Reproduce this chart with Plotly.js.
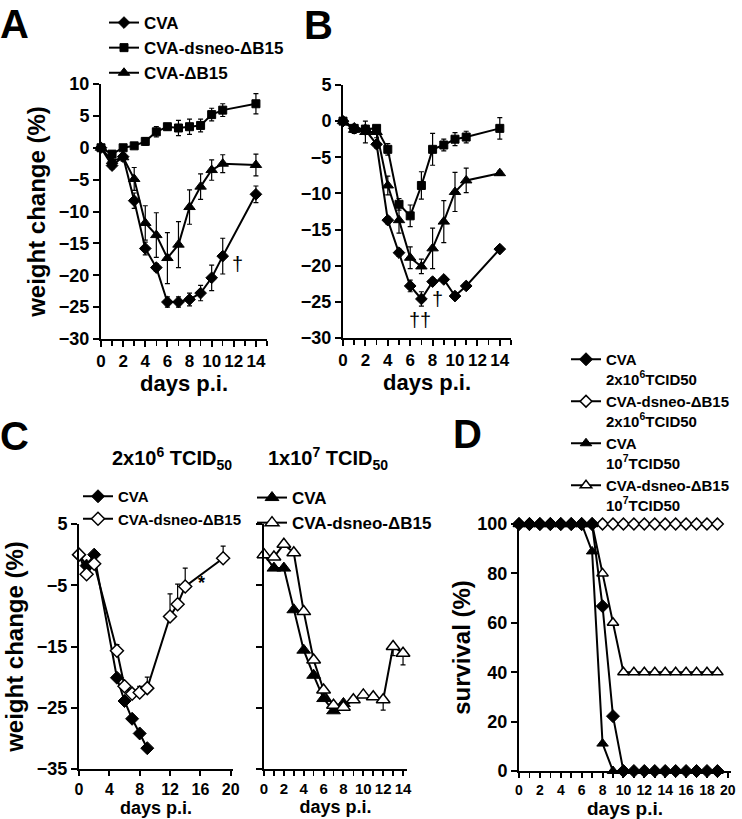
<!DOCTYPE html>
<html>
<head>
<meta charset="utf-8">
<script src="https://cdn.plot.ly/plotly-3.0.1.min.js"></script>
<style>html,body{margin:0;padding:0;background:#fff;}#chart{width:742px;height:819px;}</style>
</head>
<body>
<div id="chart"></div>
<script>
// ---------- Panel A ----------
const daysAB = [0,1,2,3,4,5,6,7,8,9,10,11,14];
const A_cva = [0,-2.8,-1.4,-8.3,-15.8,-18.8,-24.2,-24.2,-23.8,-22.8,-20.4,-17.0,-7.3];
const A_cva_err = [0,0.5,0.5,1.2,1.0,0.6,0.8,0.8,1.0,1.2,2.0,2.8,1.3];
const A_dsneo = [0,-1.0,0,0.3,1.0,2.5,3.3,3.1,3.3,3.5,5.2,5.9,6.9];
const A_dsneo_err = [0.3,0.5,0.3,0.3,0.6,0.8,0.5,1.2,1.2,1.0,1.0,1.0,1.6];
const A_dB15 = [0,-2.1,-1.5,-4.9,-11.8,-13.7,-17.3,-15.2,-9.3,-6.1,-3.5,-2.5,-2.7];
const A_dB15_err = [0,0.8,0.6,1.8,2.7,3.5,4.0,3.6,2.7,2.0,1.6,1.4,1.7];

// ---------- Panel B ----------
const B_cva = [0,-1.0,-1.2,-3.2,-13.7,-18.2,-22.8,-24.6,-22.2,-21.9,-24.2,-22.8,-17.7];
const B_cva_err = [0,0.3,0.3,0.5,0.5,0.5,0.8,1.0,0.5,0.4,0.4,0.4,0.3];
const B_dsneo = [0,-1.0,-1.1,-1.0,-3.9,-11.5,-13.1,-8.9,-3.9,-3.3,-2.5,-2.2,-1.0];
const B_dsneo_err = [0,0.3,0.5,0.4,0.8,0.8,1.5,1.9,2.2,0.8,0.9,0.8,1.5];
const B_dB15 = [0,-1.2,-1.5,-1.5,-8.9,-13.7,-18.9,-20.1,-17.6,-13.9,-9.8,-8.2,-7.2];
const B_dB15_err = [0,0.5,1.5,0.8,1.3,1.8,1.5,1.0,2.8,2.9,2.7,1.7,0.3];

// ---------- Panel C (2x10^6) ----------
const C1_cva_days = [0,1,2,5,6,7,8,9];
const C1_cva = [0,-1.8,0,-20.1,-23.9,-26.8,-29.2,-31.6];
const C1_dsneo_days = [0,1,2,5,6,7,8,9,12,13,14,19];
const C1_dsneo = [0,-3.2,-1.5,-15.7,-21.5,-22.7,-22.5,-21.8,-10.1,-8.1,-5.2,-0.6];
const C1_dsneo_err = [0,0,0,1.0,0.5,0.3,1.0,1.8,3.7,3.3,3.0,2.0];

// ---------- Panel C (1x10^7) ----------
const C2_cva_days = [0,1,2,3,4,5,6,7,8];
const C2_cva = [0,-2.2,-2.2,-9.0,-15.6,-19.7,-23.5,-25.5,-24.3];
const C2_dsneo_days = [0,1,2,3,4,5,6,7,8,9,10,11,12,13,14];
const C2_dsneo = [0,-0.4,1.7,0.3,-9.3,-17.2,-22.1,-24.6,-24.9,-23.7,-22.9,-23.2,-23.7,-15.0,-16.1];
const C2_dsneo_err = [0,0,0,0,0,0,0,0,0,0,0,0,1.7,1.5,1.9];

// ---------- Panel D (survival) ----------
const daysD = [0,1,2,3,4,5,6,7,8,9,10,11,12,13,14,15,16,17,18,19];
const D_cva6 = [100,100,100,100,100,100,100,100,66.7,22.2,0,0,0,0,0,0,0,0,0,0];
const D_dsneo6 = [100,100,100,100,100,100,100,100,100,100,100,100,100,100,100,100,100,100,100,100];
const D_cva7 = [100,100,100,100,100,100,100,88.9,11.1,0,0,0,0,0,0,0,0,0,0,0];
const D_dsneo7 = [100,100,100,100,100,100,100,100,80,60,40,40,40,40,40,40,40,40,40,40];

const F = 'Liberation Sans, Arial, Helvetica, sans-serif';
const K = 'black';
function bf(size){ return {family:F, size:size, color:K, weight:'bold'}; }
function err(arr, sym){ 
  if (sym === 'up') return {type:'data', symmetric:false, array:arr, arrayminus:arr.map(()=>0), color:K, thickness:1.2, width:2.5};
  if (sym === 'down') return {type:'data', symmetric:false, array:arr.map(()=>0), arrayminus:arr, color:K, thickness:1.2, width:2.5};
  return {type:'data', array:arr, color:K, thickness:1.2, width:2.5};
}
function tr(x, y, opts){
  return Object.assign({type:'scatter', mode:'lines+markers', x:x, y:y, cliponaxis:false,
    line:{color:K, width:2}}, opts);
}
const filled = (sym, size) => ({symbol:sym, size:size, color:K, line:{color:K, width:1}});
const hollow = (sym, size) => ({symbol:sym, size:size, color:'white', line:{color:K, width:1.5}});

const traces = [
  // A
  tr(daysAB, A_cva, {name:'CVA', xaxis:'x', yaxis:'y', marker:filled('diamond',9), error_y:err(A_cva_err), legend:'legend'}),
  tr(daysAB, A_dsneo, {name:'CVA-dsneo-ΔB15', xaxis:'x', yaxis:'y', marker:filled('square',8), error_y:err(A_dsneo_err), legend:'legend'}),
  tr(daysAB, A_dB15, {name:'CVA-ΔB15', xaxis:'x', yaxis:'y', marker:filled('triangle-up',10), error_y:err(A_dB15_err), legend:'legend'}),
  // B
  tr(daysAB, B_cva, {name:'CVA', xaxis:'x2', yaxis:'y2', marker:filled('diamond',9), error_y:err(B_cva_err), showlegend:false}),
  tr(daysAB, B_dsneo, {name:'CVA-dsneo-ΔB15', xaxis:'x2', yaxis:'y2', marker:filled('square',8), error_y:err(B_dsneo_err), showlegend:false}),
  tr(daysAB, B_dB15, {name:'CVA-ΔB15', xaxis:'x2', yaxis:'y2', marker:filled('triangle-up',10), error_y:err(B_dB15_err), showlegend:false}),
  // C left
  tr(C1_cva_days, C1_cva, {name:'CVA', xaxis:'x3', yaxis:'y3', marker:filled('diamond',10), legend:'legend2'}),
  tr(C1_dsneo_days, C1_dsneo, {name:'CVA-dsneo-ΔB15', xaxis:'x3', yaxis:'y3', marker:hollow('diamond',10), error_y:err(C1_dsneo_err,'up'), legend:'legend2'}),
  // C right
  tr(C2_cva_days, C2_cva, {name:'CVA', xaxis:'x4', yaxis:'y4', marker:filled('triangle-up',12), legend:'legend3'}),
  tr(C2_dsneo_days, C2_dsneo, {name:'CVA-dsneo-ΔB15', xaxis:'x4', yaxis:'y4', marker:hollow('triangle-up',12), error_y:err(C2_dsneo_err,'down'), legend:'legend3'}),
  // D (drawing order: hollow triangle, hollow diamond, filled triangle, filled diamond)
  tr(daysD, D_dsneo7, {name:'CVA-dsneo-ΔB15<br>10<sup>7</sup>TCID50', xaxis:'x5', yaxis:'y5', marker:hollow('triangle-up',10), legend:'legend4', legendrank:4}),
  tr(daysD, D_dsneo6, {name:'CVA-dsneo-ΔB15<br>2x10<sup>6</sup>TCID50', xaxis:'x5', yaxis:'y5', marker:hollow('diamond',9), legend:'legend4', legendrank:2}),
  tr(daysD, D_cva7, {name:'CVA<br>10<sup>7</sup>TCID50', xaxis:'x5', yaxis:'y5', marker:filled('triangle-up',10), legend:'legend4', legendrank:3}),
  tr(daysD, D_cva6, {name:'CVA<br>2x10<sup>6</sup>TCID50', xaxis:'x5', yaxis:'y5', marker:filled('diamond',10), legend:'legend4', legendrank:1}),
];

const W = 742, H = 819;
const px = v => v / W;
const py = v => 1 - v / H;

function ax(extra){
  return Object.assign({showline:true, linecolor:K, linewidth:2, ticks:'outside', ticklen:6, tickwidth:2,
    tickcolor:K, showgrid:false, zeroline:false, fixedrange:true, tickangle:0}, extra);
}
const minor1 = {dtick:1, ticks:'outside', ticklen:5, tickwidth:1.5, tickcolor:K, showgrid:false};

function ann(text, x, y, font){
  return {text:text, x:px(x), y:py(y), xref:'paper', yref:'paper', xanchor:'center', yanchor:'middle', showarrow:false, font:font};
}

const layout = {
  width: W, height: H,
  margin: {l:0, r:0, t:0, b:0},
  paper_bgcolor:'white', plot_bgcolor:'white',
  font: {family:F, color:K},
  // A
  xaxis: ax({domain:[px(101), px(267)], range:[0,15], dtick:2, tick0:0, minor:minor1, anchor:'y',
    tickfont:bf(17), title:{text:'days p.i.', font:bf(22), standoff:2}}),
  yaxis: ax({domain:[py(339), py(84)], range:[-30,10], dtick:5, anchor:'x',
    tickfont:bf(18), title:{text:'weight change (%)', font:bf(24), standoff:6}}),
  // B
  xaxis2: ax({domain:[px(343), px(511)], range:[0,15], dtick:2, tick0:0, minor:minor1, anchor:'y2',
    tickfont:bf(17), title:{text:'days p.i.', font:bf(22), standoff:2}}),
  yaxis2: ax({domain:[py(338), py(85)], range:[-30,5], dtick:5, anchor:'x2', tickfont:bf(18)}),
  // C left
  xaxis3: ax({domain:[px(79), px(233)], range:[0,20.3], dtick:4, tick0:0, anchor:'y3', ticklen:5,
    tickfont:bf(16), title:{text:'days p.i.', font:bf(18), standoff:2}}),
  yaxis3: ax({domain:[py(769), py(524)], range:[-35,5], tickvals:[-35,-25,-15,-5,5], anchor:'x3',
    tickfont:bf(18), title:{text:'weight change (%)', font:bf(24), standoff:6}}),
  // C right
  xaxis4: ax({domain:[px(264), px(407)], range:[0,14.4], dtick:2, tick0:0, minor:minor1, anchor:'y4', ticklen:5,
    tickfont:bf(15), title:{text:'days p.i.', font:bf(18), standoff:2}}),
  yaxis4: ax({domain:[py(769), py(524)], range:[-35,5], tickvals:[-35,-25,-15,-5,5], anchor:'x4', showticklabels:false}),
  // D
  xaxis5: ax({domain:[px(519), px(731)], range:[0,20.3], dtick:2, tick0:0, minor:minor1, anchor:'y5', ticklen:5,
    tickfont:bf(14), title:{text:'days p.i.', font:bf(19), standoff:2}}),
  yaxis5: ax({domain:[py(771), py(524)], range:[0,100], dtick:20, anchor:'x5',
    tickfont:bf(18), title:{text:'survival (%)', font:bf(24), standoff:0}}),
  legend: {x:px(104), y:py(5), xanchor:'left', yanchor:'top', bgcolor:'rgba(0,0,0,0)',
    font:bf(17), itemwidth:30},
  legend2: {x:px(78), y:py(480), xanchor:'left', yanchor:'top', bgcolor:'rgba(0,0,0,0)',
    font:bf(15), itemwidth:30},
  legend3: {x:px(252), y:py(480), xanchor:'left', yanchor:'top', bgcolor:'rgba(0,0,0,0)',
    font:bf(17), itemwidth:30},
  legend4: {x:px(566), y:py(343), xanchor:'left', yanchor:'top', bgcolor:'rgba(0,0,0,0)',
    font:bf(15), itemwidth:30, valign:'top'},
  annotations: [
    ann('A', 14, 24, bf(40)),
    ann('B', 318, 25, bf(40)),
    ann('C', 14, 436, bf(40)),
    ann('D', 467, 434, bf(40)),
    ann('2x10<sup>6</sup> TCID<sub>50</sub>', 172, 458, bf(20)),
    ann('1x10<sup>7</sup> TCID<sub>50</sub>', 328, 458, bf(20)),
    {text:'†', x:12.3, y:-18.3, xref:'x', yref:'y', showarrow:false, font:{family:F, size:20, color:K}},
    {text:'††', x:6.9, y:-27.5, xref:'x2', yref:'y2', showarrow:false, font:{family:F, size:20, color:K}},
    {text:'†', x:8.4, y:-24.6, xref:'x2', yref:'y2', showarrow:false, font:{family:F, size:20, color:K}},
    {text:'*', x:16.2, y:-4.6, xref:'x3', yref:'y3', showarrow:false, font:{family:F, size:18, color:K, weight:'bold'}},
  ],
};

Plotly.newPlot('chart', traces, layout, {staticPlot:true, displayModeBar:false});
</script>
</body>
</html>
